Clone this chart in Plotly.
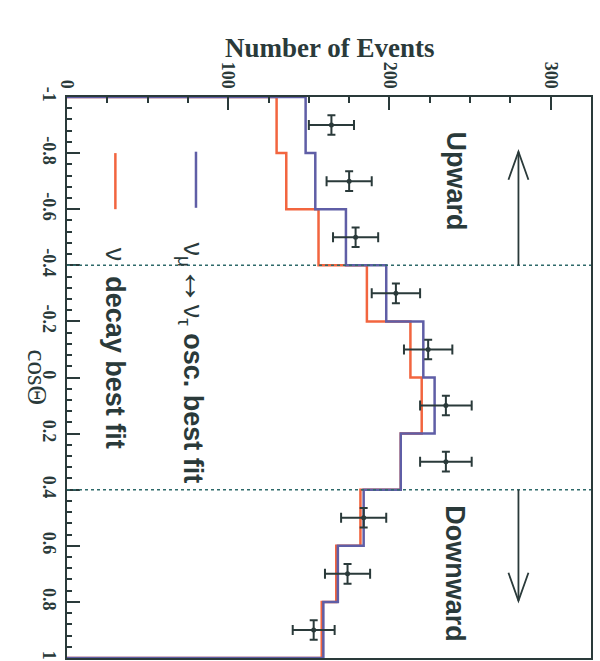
import plotly.graph_objects as go

# Zenith-angle distribution, drawn rotated: cos(theta) runs down the page,
# number of events runs left to right.
cos_edges = [-1.0, -0.8, -0.6, -0.4, -0.2, 0.0, 0.2, 0.4, 0.6, 0.8, 1.0]
cos_centers = [-0.9, -0.7, -0.5, -0.3, -0.1, 0.1, 0.3, 0.5, 0.7, 0.9]

osc_fit = [148, 154, 173, 198, 221, 228, 207, 184, 168, 159]
decay_fit = [130, 136, 156, 186, 213, 220, 207, 182, 167, 158]

data_events = [164, 175, 179, 204, 224, 235, 235, 184, 174, 153]
data_err = [14, 14, 14, 15, 15, 16, 16, 14, 14, 13]
cos_err = [0.035] * 10

event_ticks = [0, 100, 200, 300]
cos_ticks = [-1, -0.8, -0.6, -0.4, -0.2, 0, 0.2, 0.4, 0.6, 0.8, 1]
cos_tick_text = ["-1", "-0.8", "-0.6", "-0.4", "-0.2", "0", "0.2", "0.4", "0.6", "0.8", "1"]

INK = "#2a3a3a"
BLUE = "#5f5ea6"
RED = "#f2653f"


def step_path(edges, vals):
    xs, ys = [0], [edges[0]]
    for i, v in enumerate(vals):
        xs += [v, v]
        ys += [edges[i], edges[i + 1]]
    xs.append(0)
    ys.append(edges[-1])
    return xs, ys


fig = go.Figure()

rx, ry = step_path(cos_edges, decay_fit)
fig.add_trace(go.Scatter(x=rx, y=ry, mode="lines", line=dict(color=RED, width=2.5),
                         hoverinfo="skip", showlegend=False))
bx, by = step_path(cos_edges, osc_fit)
fig.add_trace(go.Scatter(x=bx, y=by, mode="lines", line=dict(color=BLUE, width=2.5),
                         hoverinfo="skip", showlegend=False))

fig.add_trace(go.Scatter(
    x=data_events, y=cos_centers, mode="markers",
    marker=dict(color=INK, size=5),
    error_x=dict(type="data", array=data_err, color=INK, thickness=2, width=5),
    error_y=dict(type="data", array=cos_err, color=INK, thickness=2, width=4),
    showlegend=False,
))

shapes = []
# upward / downward boundaries
for c in (-0.4, 0.4):
    shapes.append(dict(type="line", xref="paper", x0=0, x1=1, yref="y", y0=c, y1=c,
                       line=dict(color="#2f6a6a", width=1.5, dash="3px,3px")))

# direction arrows
ARROW_X = 280
shapes += [
    dict(type="line", x0=ARROW_X, x1=ARROW_X, y0=-0.4, y1=-0.805, line=dict(color=INK, width=1.8)),
    dict(type="path", path=f"M {ARROW_X-6.2},-0.705 L {ARROW_X},-0.805 L {ARROW_X+6.2},-0.705",
         line=dict(color=INK, width=1.8)),
    dict(type="line", x0=ARROW_X, x1=ARROW_X, y0=0.4, y1=0.796, line=dict(color=INK, width=1.8)),
    dict(type="path", path=f"M {ARROW_X-6.2},0.696 L {ARROW_X},0.796 L {ARROW_X+6.2},0.696",
         line=dict(color=INK, width=1.8)),
]

# legend samples
shapes += [
    dict(type="line", x0=80, x1=80, y0=-0.805, y1=-0.605, line=dict(color=BLUE, width=2.5)),
    dict(type="line", x0=30, x1=30, y0=-0.80, y1=-0.60, line=dict(color=RED, width=2.5)),
]

annotations = [
    dict(text="<b>Number of Events</b>", xref="paper", yref="paper", x=0.502, y=1.117,
         showarrow=False, font=dict(family="Liberation Serif", size=27, color=INK)),
    dict(text="cosΘ", xref="paper", yref="y", x=-0.088, y=0, textangle=90,
         showarrow=False, font=dict(family="Liberation Serif", size=27, color=INK)),
    dict(text="<b>Upward</b>", x=241, y=-0.70, textangle=90, showarrow=False,
         font=dict(family="Liberation Sans", size=27, color=INK)),
    dict(text="<b>Downward</b>", x=241, y=0.70, textangle=90, showarrow=False,
         font=dict(family="Liberation Sans", size=27, color=INK)),
    dict(text="ν<sub>μ</sub><span style='font-size:38px'>↔</span>ν<sub>τ</sub> <b>osc. best fit</b>",
         x=95, y=-0.49, xanchor="right", yanchor="top", textangle=90, showarrow=False,
         font=dict(family="Liberation Sans", size=27, color=INK)),
    dict(text="ν  <b>decay best fit</b>", x=40, y=-0.47,
         xanchor="right", yanchor="top", textangle=90, showarrow=False,
         font=dict(family="Liberation Sans", size=27, color=INK)),
]

tickfont = dict(family="Liberation Serif", size=18, color=INK, weight="bold")

fig.update_layout(
    width=600, height=661,
    margin=dict(l=67, r=9, t=97, b=1),
    paper_bgcolor="white", plot_bgcolor="white",
    shapes=shapes, annotations=annotations,
    xaxis=dict(
        range=[0, 325], side="top", tickmode="array", tickvals=event_ticks,
        ticks="inside", ticklen=13, tickwidth=1.5, tickcolor=INK, tickangle=90,
        minor=dict(tickmode="linear", tick0=0, dtick=25, ticks="inside", ticklen=6,
                   tickwidth=1.5, tickcolor=INK),
        showline=True, mirror=True, linecolor=INK, linewidth=2,
        showgrid=False, zeroline=False, tickfont=tickfont,
    ),
    yaxis=dict(
        range=[1, -1], tickmode="array", tickvals=cos_ticks, ticktext=cos_tick_text,
        ticks="inside", ticklen=13, tickwidth=1.5, tickcolor=INK, tickangle=90,
        minor=dict(tickmode="linear", tick0=-1, dtick=0.04, ticks="inside", ticklen=5,
                   tickwidth=1.5, tickcolor=INK),
        showline=True, mirror=True, linecolor=INK, linewidth=2,
        showgrid=False, zeroline=False, tickfont=tickfont,
    ),
)

fig.write_html("out.html")
